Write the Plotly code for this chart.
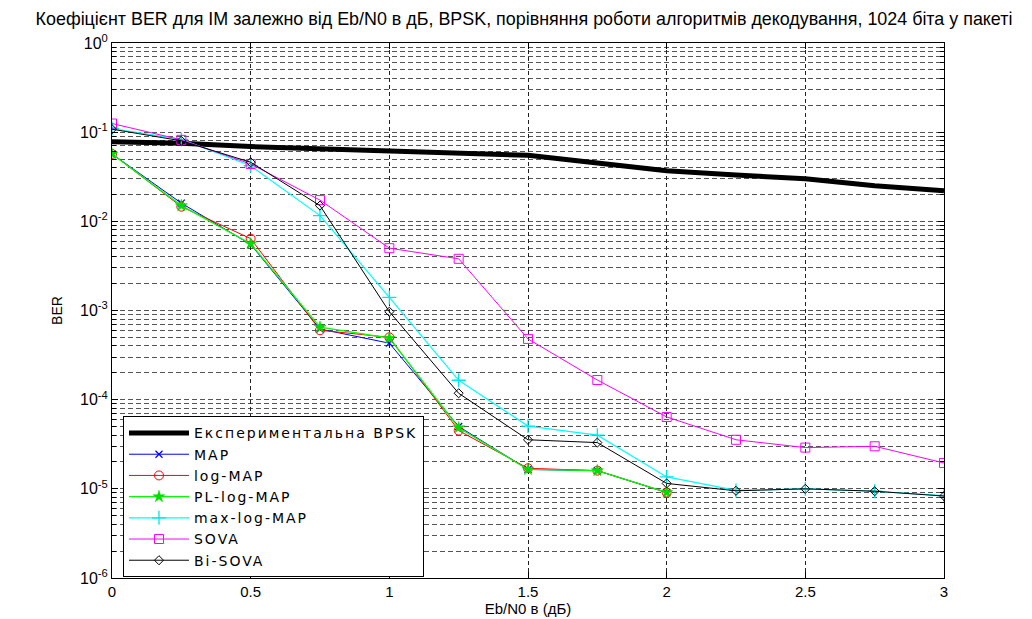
import plotly.graph_objects as go

ebn0 = [0, 0.25, 0.5, 0.75, 1.0, 1.25, 1.5, 1.75, 2.0, 2.25, 2.5, 2.75, 3.0]
ebn0_short = [0, 0.25, 0.5, 0.75, 1.0, 1.25, 1.5, 1.75, 2.0]

ber_exp = [0.078, 0.075, 0.069, 0.065, 0.061, 0.058, 0.055, 0.045, 0.037, 0.033, 0.030, 0.025, 0.022]
ber_map = [0.057, 0.016, 0.0055, 0.00062, 0.00043, 5.0e-5, 1.65e-5, 1.6e-5, 9.1e-6]
ber_logmap = [0.057, 0.0146, 0.0064, 0.0006, 0.0005, 4.5e-5, 1.7e-5, 1.6e-5, 9.1e-6]
ber_pllogmap = [0.057, 0.015, 0.0056, 0.00065, 0.00049, 4.85e-5, 1.65e-5, 1.6e-5, 9.1e-6]
ber_maxlogmap = [0.11, 0.083, 0.042, 0.0116, 0.0014, 0.000165, 5.06e-5, 4.0e-5, 1.36e-5, 9.6e-6, 1.0e-5, 9.4e-6, 8.4e-6]
ber_sova = [0.125, 0.082, 0.044, 0.0173, 0.005, 0.0038, 0.00048, 0.000166, 6.4e-5, 3.55e-5, 2.9e-5, 3.0e-5, 1.95e-5]
ber_bisova = [0.108, 0.08, 0.046, 0.015, 0.00097, 0.000118, 3.55e-5, 3.3e-5, 1.15e-5, 9.5e-6, 1.0e-5, 9.4e-6, 8.3e-6]

names = ["Експериментальна BPSK", "MAP", "log-MAP", "PL-log-MAP", "max-log-MAP", "SOVA", "Bi-SOVA"]
y_ticks = [1e-6, 1e-5, 1e-4, 1e-3, 1e-2, 1e-1, 1]
y_ticktext = ["10<sup>-6</sup>", "10<sup>-5</sup>", "10<sup>-4</sup>", "10<sup>-3</sup>", "10<sup>-2</sup>", "10<sup>-1</sup>", "10<sup>0</sup>"]
x_ticks = [0, 0.5, 1, 1.5, 2, 2.5, 3]
x_ticktext = ["0", "0.5", "1", "1.5", "2", "2.5", "3"]


def wide(label):
    return '<span style="letter-spacing:2px">' + label + '</span>'


fig = go.Figure()
fig.add_trace(go.Scatter(x=ebn0, y=ber_exp, name=wide(names[0]), mode="lines",
                         line=dict(color="black", width=5)))
fig.add_trace(go.Scatter(x=ebn0_short, y=ber_map, name=wide(names[1]), mode="lines+markers",
                         line=dict(color="#0000ff", width=1),
                         marker=dict(symbol="x-thin-open", size=7, color="#0000ff", line=dict(color="#0000ff", width=1.2))))
fig.add_trace(go.Scatter(x=ebn0_short, y=ber_logmap, name=wide(names[2]), mode="lines+markers",
                         line=dict(color="#ff0000", width=1),
                         marker=dict(symbol="circle-open", size=9, color="#ff0000", line=dict(color="#ff0000", width=1))))
fig.add_trace(go.Scatter(x=ebn0_short, y=ber_pllogmap, name=wide(names[3]), mode="lines+markers",
                         line=dict(color="#00ff00", width=1.3),
                         marker=dict(symbol="star", size=9, color="#00dd00", line=dict(color="#00dd00", width=0.5))))
fig.add_trace(go.Scatter(x=ebn0, y=ber_maxlogmap, name=wide(names[4]), mode="lines+markers",
                         line=dict(color="#00ffff", width=1.2),
                         marker=dict(symbol="cross-thin-open", size=10, color="#00e5e5", line=dict(color="#00e5e5", width=1.3))))
fig.add_trace(go.Scatter(x=ebn0, y=ber_sova, name=wide(names[5]), mode="lines+markers",
                         line=dict(color="#ff00ff", width=1),
                         marker=dict(symbol="square-open", size=9, color="#ff00ff", line=dict(color="#ff00ff", width=1))))
fig.add_trace(go.Scatter(x=ebn0, y=ber_bisova, name=wide(names[6]), mode="lines+markers",
                         line=dict(color="black", width=1),
                         marker=dict(symbol="diamond-open", size=7, color="black", line=dict(color="black", width=1))))

font_family = "Liberation Sans, Arial, sans-serif"
legend_family = "DejaVu Sans, Liberation Sans, sans-serif"
fig.update_layout(
    width=1032, height=619,
    margin=dict(l=104, r=96, t=35, b=42),
    paper_bgcolor="white", plot_bgcolor="white",
    font=dict(family=font_family, size=14, color="black"),
    title=dict(text="Коефіцієнт BER для ІМ залежно від Eb/N0 в дБ, BPSK, порівняння роботи алгоритмів декодування, 1024 біта у пакеті",
               x=0.5, xanchor="center", y=0.993, yanchor="top",
               font=dict(family=font_family, size=17.9, color="black")),
    showlegend=True,
    legend=dict(x=0.0132, y=0.302, xanchor="left", yanchor="top",
                bgcolor="white", bordercolor="black", borderwidth=1,
                font=dict(family=legend_family, size=14, color="black"),
                itemwidth=60, tracegroupgap=0),
)
fig.update_xaxes(range=[0, 3], tickvals=x_ticks, ticktext=x_ticktext,
                 showline=True, linecolor="black", linewidth=1, mirror="ticks",
                 ticks="inside", ticklen=6, tickcolor="black",
                 showgrid=True, gridcolor="#222222", gridwidth=1, griddash="4px,3px",
                 zeroline=False,
                 title=dict(text="Eb/N0 в (дБ)", standoff=4, font=dict(size=15)),
                 tickfont=dict(size=15))
fig.update_yaxes(type="log", range=[-6, 0], tickvals=y_ticks, ticktext=y_ticktext,
                 showline=True, linecolor="black", linewidth=1, mirror="ticks",
                 ticks="inside", ticklen=6, tickcolor="black",
                 showgrid=True, gridcolor="#555555", gridwidth=1, griddash="5px,3px",
                 minor=dict(dtick="D1", showgrid=True, gridcolor="#555555", griddash="5px,3px",
                            ticks="inside", ticklen=4, tickcolor="black"),
                 zeroline=False,
                 title=dict(text="BER", standoff=14, font=dict(size=14)),
                 tickfont=dict(size=16))

fig.write_html("out.html")
